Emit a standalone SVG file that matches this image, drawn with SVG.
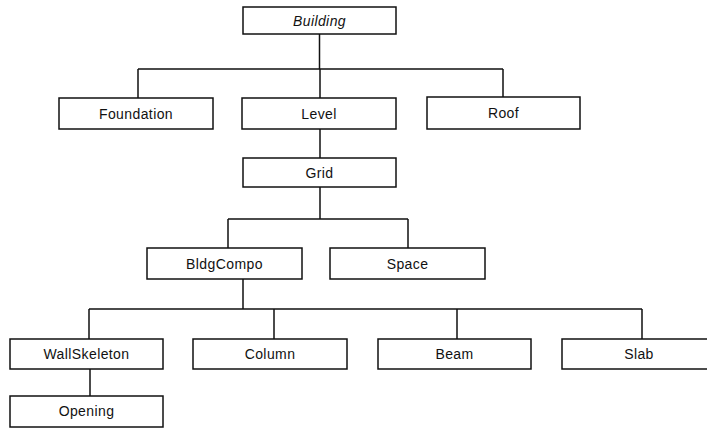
<svg xmlns="http://www.w3.org/2000/svg" width="707" height="428" viewBox="0 0 707 428">
  <style>
    .box { fill: #ffffff; stroke: #111111; stroke-width: 1.5; }
    .lbl { font-family: "Liberation Sans", Arial, sans-serif; font-size: 14px; letter-spacing: 0.4px; fill: #111111; text-anchor: middle; }
    .it { font-style: italic; }
    .wire { fill: none; stroke: #111111; stroke-width: 1.5; }
  </style>
  <rect width="707" height="428" fill="#ffffff"/>

  <!-- tree connectors -->
  <g id="connectors" class="wire">
    <path d="M319.5 34 V69 M138 69 H503 M138 69 V98 M320 69 V98 M503 69 V97"/>
    <path d="M320 129 V158"/>
    <path d="M320 187 V219 M228 219 H408 M228 219 V248 M408 219 V248"/>
    <path d="M243 279 V309 M89 309 H642 M89 309 V339 M274 309 V339 M457 309 V339 M642 309 V339"/>
    <path d="M90 369 V396"/>
  </g>

  <g id="building">
    <rect class="box" x="243" y="7" width="153" height="27"/>
    <text class="lbl it" x="319.5" y="25.5">Building</text>
  </g>
  <g id="foundation">
    <rect class="box" x="59" y="98" width="154" height="31"/>
    <text class="lbl" x="136" y="118.5">Foundation</text>
  </g>
  <g id="level">
    <rect class="box" x="242" y="98" width="154" height="31"/>
    <text class="lbl" x="319" y="118.5">Level</text>
  </g>
  <g id="roof">
    <rect class="box" x="427" y="97" width="153" height="32"/>
    <text class="lbl" x="503.5" y="118">Roof</text>
  </g>
  <g id="grid">
    <rect class="box" x="243" y="158" width="153" height="29"/>
    <text class="lbl" x="319.5" y="177.5">Grid</text>
  </g>
  <g id="bldgcompo">
    <rect class="box" x="147" y="248" width="155" height="31"/>
    <text class="lbl" x="224.5" y="268.5">BldgCompo</text>
  </g>
  <g id="space">
    <rect class="box" x="330" y="248" width="155" height="31"/>
    <text class="lbl" x="407.5" y="268.5">Space</text>
  </g>
  <g id="wallskeleton">
    <rect class="box" x="10" y="339" width="153" height="30"/>
    <text class="lbl" x="86.5" y="359">WallSkeleton</text>
  </g>
  <g id="column">
    <rect class="box" x="193" y="339" width="154" height="30"/>
    <text class="lbl" x="270" y="359">Column</text>
  </g>
  <g id="beam">
    <rect class="box" x="378" y="339" width="153" height="30"/>
    <text class="lbl" x="454.5" y="359">Beam</text>
  </g>
  <g id="slab">
    <rect class="box" x="562" y="339" width="154" height="30"/>
    <text class="lbl" x="639" y="359">Slab</text>
  </g>
  <g id="opening">
    <rect class="box" x="10" y="396" width="153" height="31"/>
    <text class="lbl" x="86.5" y="416">Opening</text>
  </g>
</svg>
